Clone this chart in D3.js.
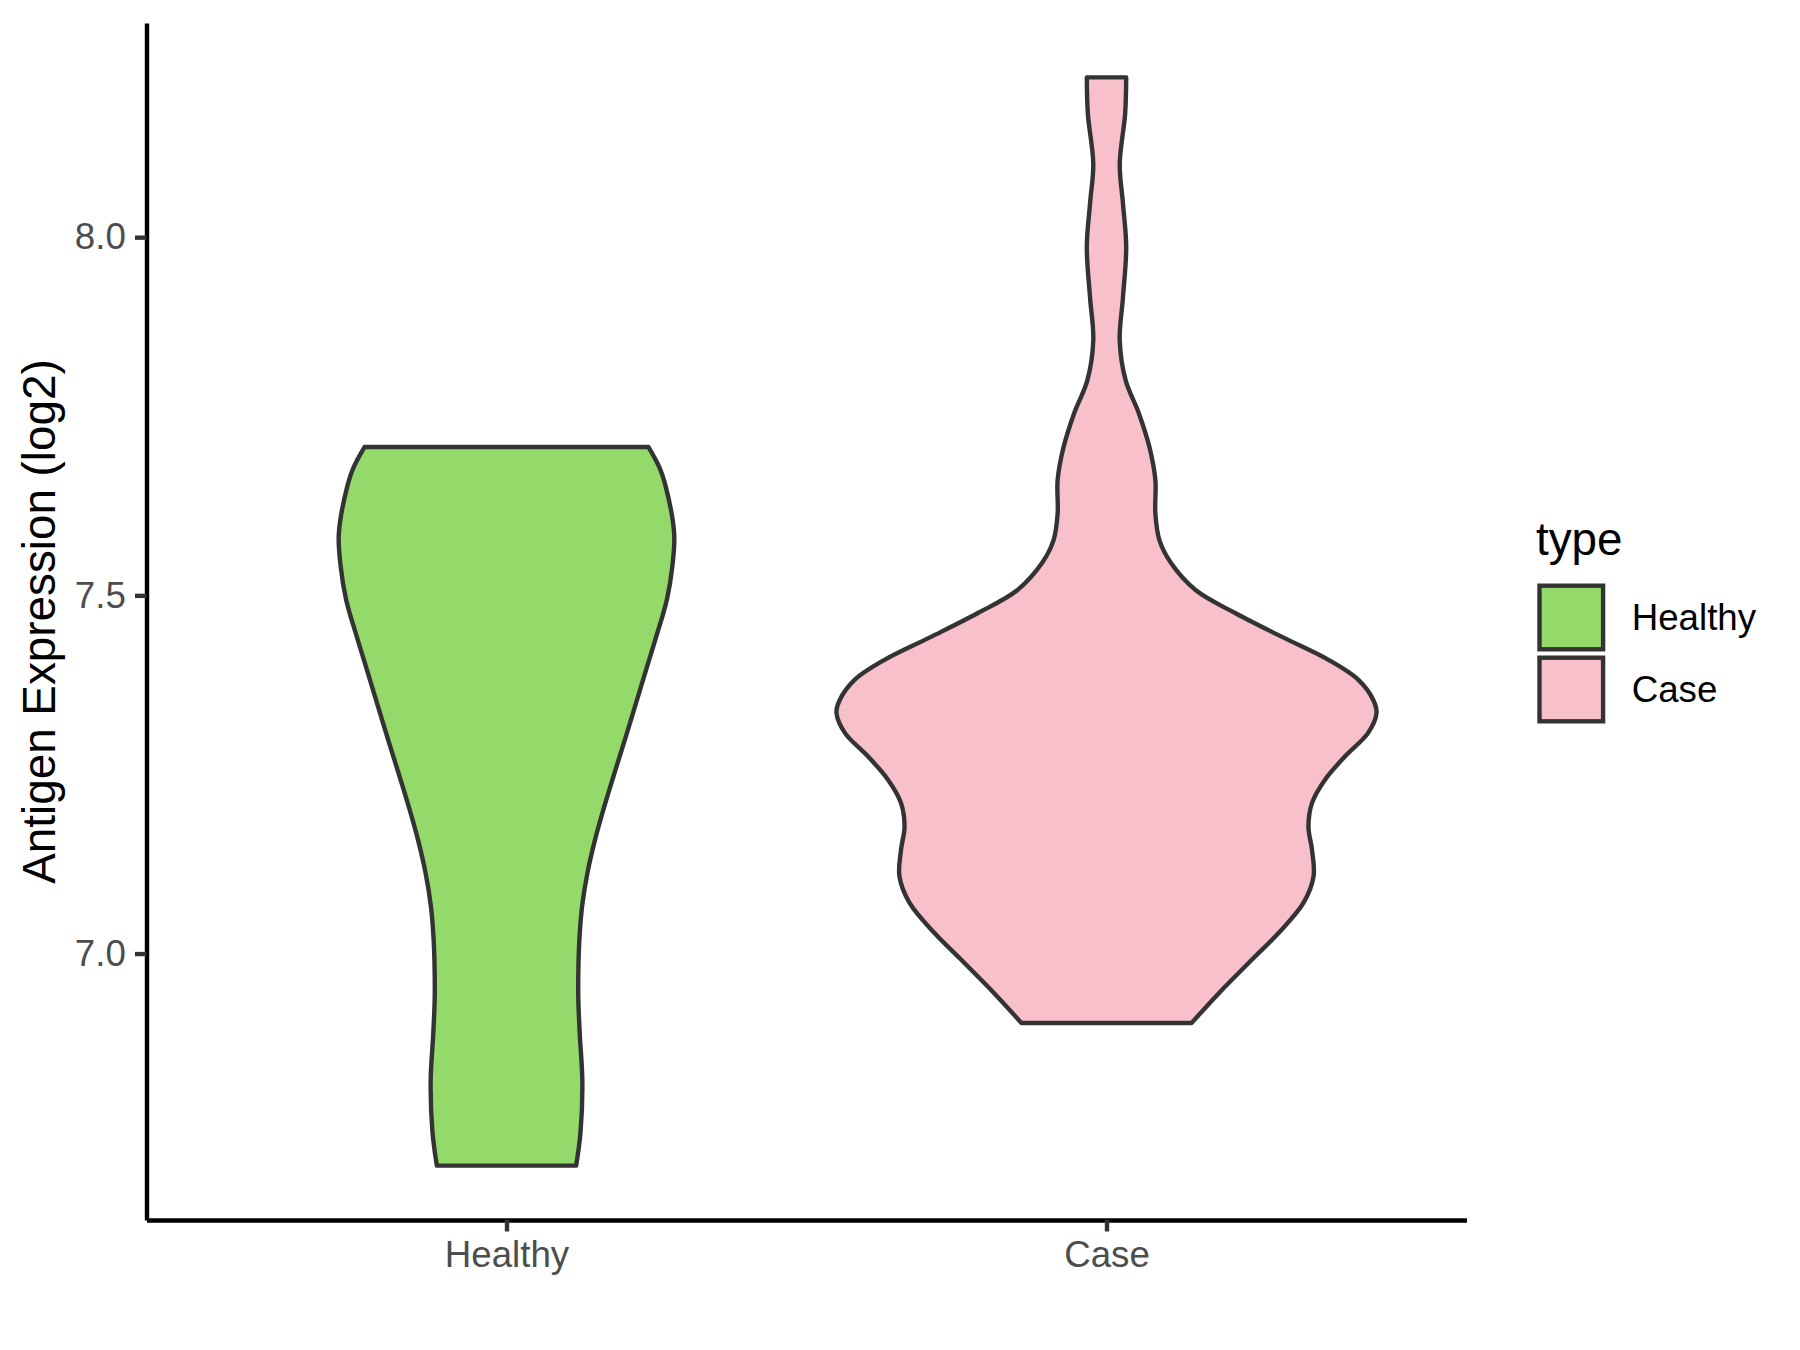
<!DOCTYPE html>
<html lang="en">
<head>
<meta charset="utf-8">
<title>Antigen Expression violin</title>
<script src="https://cdnjs.cloudflare.com/ajax/libs/d3/7.8.5/d3.min.js"></script>
<style>
  body { margin: 0; background: #ffffff; }
  svg text { font-family: "Liberation Sans", Arial, sans-serif; }
</style>
</head>
<body>
<div id="chart"></div>
<script>
// categories on the x axis
var categories = ["Healthy", "Case"];
var fillColors = ["#93DA6A", "#F7C0CB"];

// violin outlines: expression level and relative width (1 = widest)
var healthyLevels = [6.704, 6.750, 6.820, 6.890, 6.936, 6.973, 7.020, 7.066, 7.113, 7.159, 7.205, 7.252,
                     7.298, 7.345, 7.391, 7.438, 7.494, 7.540, 7.586, 7.656, 7.679, 7.707];
var healthyWidths = [0.258, 0.274, 0.281, 0.271, 0.266, 0.266, 0.270, 0.280, 0.300, 0.328, 0.362, 0.400,
                     0.438, 0.476, 0.513, 0.551, 0.594, 0.614, 0.621, 0.587, 0.566, 0.526];

var caseLevels = [6.903, 6.945, 6.992, 7.029, 7.071, 7.108, 7.145, 7.177, 7.210, 7.243, 7.275, 7.308,
                  7.336, 7.354, 7.382, 7.410, 7.442, 7.475, 7.507, 7.545, 7.577, 7.614, 7.661, 7.707,
                  7.754, 7.800, 7.856, 7.916, 7.986, 8.047, 8.102, 8.172, 8.223];
var caseWidths = [0.315, 0.417, 0.540, 0.638, 0.730, 0.767, 0.761, 0.748, 0.761, 0.810, 0.883, 0.969,
                  1.000, 0.988, 0.933, 0.822, 0.650, 0.478, 0.331, 0.239, 0.196, 0.181, 0.181, 0.159,
                  0.120, 0.071, 0.049, 0.061, 0.073, 0.061, 0.049, 0.069, 0.073];

var yTicks = [7.0, 7.5, 8.0];
var yTitle = "Antigen Expression (log2)";
var legendTitle = "type";

var width = 1800;
var height = 1350;
var panel = {left: 146.5, right: 1466.5, top: 23, bottom: 1220};

var svg = d3.select("#chart").append("svg")
    .attr("width", width)
    .attr("height", height)
    .style("background", "#ffffff");

// scales
var xScale = d3.scalePoint()
    .domain(categories)
    .range([panel.left, panel.right])
    .padding(0.6);

var allLevels = healthyLevels.concat(caseLevels);
var lo = d3.min(allLevels), hi = d3.max(allLevels);
var pad = (hi - lo) * 0.05;
var yScale = d3.scaleLinear()
    .domain([lo - pad, hi + pad])
    .range([panel.bottom, panel.top]);

// half width of the widest violin is 0.45 of the category step
var wScale = d3.scaleLinear()
    .domain([0, 1])
    .range([0, xScale.step() * 0.45]);

var violins = [
  {name: "Healthy", levels: healthyLevels, widths: healthyWidths},
  {name: "Case", levels: caseLevels, widths: caseWidths}
];

violins.forEach(function(v, i) {
  var pts = v.levels.map(function(l, j) { return {y: l, w: v.widths[j]}; });
  var cx = xScale(v.name);
  var area = d3.area()
      .y(function(d) { return yScale(d.y); })
      .x0(function(d) { return cx - wScale(d.w); })
      .x1(function(d) { return cx + wScale(d.w); })
      .curve(d3.curveCatmullRom);
  svg.append("path")
      .datum(pts)
      .attr("d", area)
      .attr("fill", fillColors[i])
      .attr("stroke", "#333333")
      .attr("stroke-width", 4.4)
      .attr("stroke-linejoin", "round");
});

// y axis
var yAxis = d3.axisLeft(yScale)
    .tickValues(yTicks)
    .tickFormat(d3.format(".1f"))
    .tickSize(11.5)
    .tickSizeOuter(0)
    .tickPadding(9.2);
var gy = svg.append("g")
    .attr("transform", "translate(" + panel.left + ",0)")
    .call(yAxis);

// x axis
var xAxis = d3.axisBottom(xScale)
    .tickSize(11.5)
    .tickSizeOuter(0)
    .tickPadding(9.2);
var gx = svg.append("g")
    .attr("transform", "translate(0," + panel.bottom + ")")
    .call(xAxis);

[gx, gy].forEach(function(g) {
  g.select(".domain").attr("stroke", "#000000").attr("stroke-width", 4.4);
  g.selectAll(".tick line").attr("stroke", "#333333").attr("stroke-width", 4.4);
  g.selectAll(".tick text")
      .attr("fill", "#4D4D4D")
      .style("font-size", "36.7px")
      .style("font-family", "'Liberation Sans', Arial, sans-serif");
});

// y title
svg.append("text")
    .attr("transform", "translate(55," + ((panel.top + panel.bottom) / 2) + ") rotate(-90)")
    .attr("text-anchor", "middle")
    .style("font-size", "45.8px")
    .attr("fill", "#000000")
    .text(yTitle);

// legend
var legend = svg.append("g").attr("transform", "translate(1536,0)");
legend.append("text")
    .attr("x", 0)
    .attr("y", 555)
    .style("font-size", "45.8px")
    .attr("fill", "#000000")
    .text(legendTitle);

categories.forEach(function(c, i) {
  var cy = 617.5 + i * 72;
  legend.append("rect")
      .attr("x", 35.3 - 31.8)
      .attr("y", cy - 31.8)
      .attr("width", 63.6)
      .attr("height", 63.6)
      .attr("fill", fillColors[i])
      .attr("stroke", "#333333")
      .attr("stroke-width", 4.4);
  legend.append("text")
      .attr("x", 95.7)
      .attr("y", cy + 12.8)
      .style("font-size", "36.7px")
      .attr("fill", "#000000")
      .text(c);
});
</script>
</body>
</html>
